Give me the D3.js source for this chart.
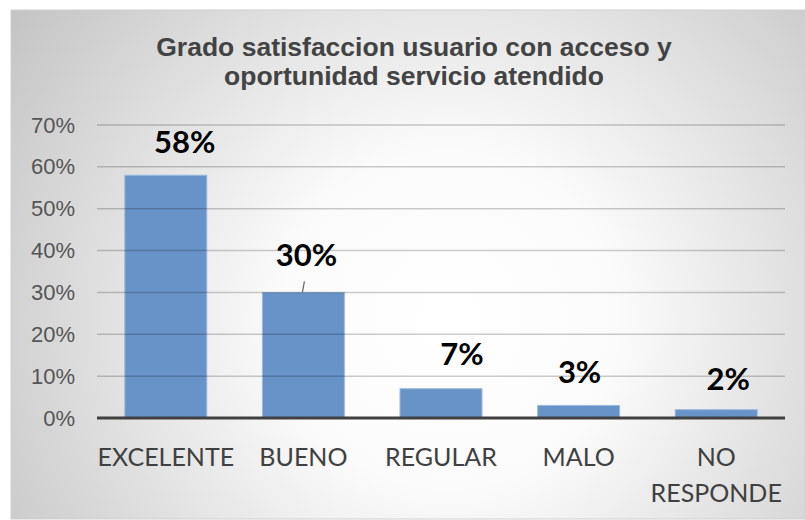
<!DOCTYPE html>
<html><head><meta charset="utf-8">
<script src="https://cdn.jsdelivr.net/npm/d3@7"></script>
<style>html,body{margin:0;padding:0;background:#fff;}svg{display:block;}</style>
</head><body>
<svg id="chart" width="805" height="520"></svg>
<script>
const titleLines = ["Grado satisfaccion usuario con acceso y", "oportunidad servicio atendido"];
const categories = ["EXCELENTE", "BUENO", "REGULAR", "MALO", "NO RESPONDE"];
const values = [0.58, 0.30, 0.07, 0.03, 0.02];
const yTicks = [0, 0.1, 0.2, 0.3, 0.4, 0.5, 0.6, 0.7];

// label placement offsets (layout only)
const labelDx = [19, 3, 21, 1, 12];
const labelDy = [22, 26, 24, 22, 20];
const labelLeader = [false, true, false, false, false];

const svg = d3.select("#chart");
const defs = svg.append("defs");
const grad = defs.append("radialGradient").attr("id", "bg")
  .attr("gradientUnits", "userSpaceOnUse")
  .attr("cx", 450).attr("cy", 320).attr("r", 560);
grad.append("stop").attr("offset", "0%").attr("stop-color", "#ffffff");
grad.append("stop").attr("offset", "30%").attr("stop-color", "#fbfbfb");
grad.append("stop").attr("offset", "100%").attr("stop-color", "#c0c0c0");

svg.append("rect").attr("x", 11).attr("y", 10).attr("width", 794).attr("height", 509)
  .attr("fill", "url(#bg)").attr("stroke", "#cfcfcf").attr("stroke-width", 1);

const pLeft = 97, pRight = 785, pTop = 125, pBottom = 418;

const x = d3.scaleBand().domain(categories).range([pLeft, pRight])
  .paddingInner(0.404).paddingOuter(0.202);
const y = d3.scaleLinear().domain([0, 0.7]).range([pBottom, pTop]);

// title
svg.append("text").attr("x", 414).attr("y", 56)
  .attr("text-anchor", "middle")
  .style("font-family", "'Liberation Sans', Arial, sans-serif")
  .style("font-weight", "bold").style("font-size", "26.5px").attr("fill", "#434343")
  .selectAll("tspan").data(titleLines).join("tspan")
  .attr("x", 414).attr("dy", (d, i) => i === 0 ? 0 : 29).text(d => d);

// bars
svg.append("g").selectAll("rect").data(values).join("rect")
  .attr("x", (d, i) => x(categories[i]))
  .attr("y", d => y(d))
  .attr("width", x.bandwidth())
  .attr("height", d => y(0) - y(d))
  .attr("fill", "#6893c8")
  .attr("stroke", "#9dbbe0").attr("stroke-width", 1);

// gridlines (over bars, translucent)
svg.append("g").selectAll("line").data(yTicks.filter(t => t > 0)).join("line")
  .attr("x1", pLeft).attr("x2", pRight)
  .attr("y1", d => y(d)).attr("y2", d => y(d))
  .attr("stroke", "#000").attr("stroke-opacity", 0.2).attr("stroke-width", 1.5);

// y axis
const yAxis = svg.append("g").attr("transform", `translate(${pLeft},0)`)
  .call(d3.axisLeft(y).tickValues(yTicks).tickFormat(d3.format(".0%")).tickSize(0).tickPadding(22));
yAxis.select(".domain").remove();
yAxis.selectAll("text")
  .style("font-family", "'Liberation Sans', Arial, sans-serif")
  .style("font-size", "22px").attr("fill", "#555555");

// baseline
svg.append("line").attr("x1", pLeft).attr("x2", pRight)
  .attr("y1", y(0)).attr("y2", y(0))
  .attr("stroke", "#404040").attr("stroke-width", 3);

// x axis
const xAxis = svg.append("g").attr("transform", `translate(0,${pBottom})`)
  .call(d3.axisBottom(x).tickSize(0).tickPadding(0));
xAxis.select(".domain").remove();
xAxis.selectAll("text").each(function(d) {
  const t = d3.select(this);
  t.text(null).attr("y", 0).attr("dy", null)
    .style("font-family", "Lato, 'Open Sans', sans-serif")
    .style("font-size", "25px").attr("fill", "#404040");
  const lines = d === "NO RESPONDE" ? d.split(" ") : [d];
  lines.forEach((w, i) => {
    t.append("tspan").attr("x", 0).attr("y", 48 + i * 36).text(w);
  });
});

// value labels
const lbl = svg.append("g");
values.forEach((v, i) => {
  const cx = x(categories[i]) + x.bandwidth() / 2;
  lbl.append("text")
    .attr("x", cx + labelDx[i]).attr("y", y(v) - labelDy[i])
    .attr("text-anchor", "middle")
    .style("font-family", "Lato, 'Open Sans', sans-serif")
    .style("font-weight", "bold").style("font-size", "31px").attr("fill", "#000")
    .text(d3.format(".0%")(v));
  if (labelLeader[i]) {
    lbl.append("line")
      .attr("x1", cx + 1).attr("y1", y(v) - 11)
      .attr("x2", cx - 1).attr("y2", y(v))
      .attr("stroke", "#666").attr("stroke-width", 1.2);
  }
});
</script>
</body></html>
